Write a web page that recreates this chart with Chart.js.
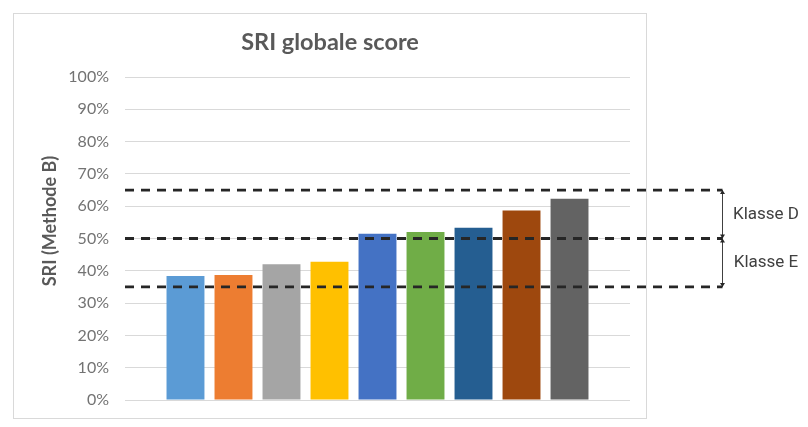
<!DOCTYPE html>
<html>
<head>
<meta charset="utf-8">
<script src="https://cdn.jsdelivr.net/npm/chart.js@4/dist/chart.umd.min.js"></script>
<style>
  html, body { margin: 0; padding: 0; background: #ffffff; }
  #wrap { width: 808px; height: 427px; }
</style>
</head>
<body>
<div id="wrap"><canvas id="sri"></canvas></div>
<script>
// Cases along the x axis (no labels drawn) and their global SRI score (%)
const cases = [1, 2, 3, 4, 5, 6, 7, 8, 9];
const sriScores = [38.4, 38.7, 42.0, 42.8, 51.5, 52.0, 53.3, 58.7, 62.3];
const barColors = ['#5B9BD5', '#ED7D31', '#A5A5A5', '#FFC000', '#4472C4',
                   '#70AD47', '#255E91', '#9E480E', '#636363'];

// Y axis tick values (%)
const yTickValues = [0, 10, 20, 30, 40, 50, 60, 70, 80, 90, 100];

// SRI class boundaries (%) and the class between each pair of boundaries
const classBounds = [35, 50, 65];
const classNames = ['Klasse E', 'Klasse D'];

const chartTitle = 'SRI globale score';
const yAxisTitle = 'SRI (Methode B)';

const GREY_TEXT = '#595959';
const BRACKET_X = 722.5;
const CLASS_LABEL_X = 766;

// Frame around the chart and white background
const framePlugin = {
  id: 'frame',
  beforeDraw(chart) {
    const ctx = chart.ctx;
    ctx.save();
    ctx.fillStyle = '#ffffff';
    ctx.fillRect(0, 0, chart.width, chart.height);
    ctx.strokeStyle = '#d9d9d9';
    ctx.lineWidth = 1;
    ctx.strokeRect(13.5, 13.5, 633, 405);
    ctx.restore();
  }
};

// Rotated title of the value axis
const yTitlePlugin = {
  id: 'yTitle',
  afterDraw(chart) {
    const ctx = chart.ctx;
    ctx.save();
    ctx.translate(50, 221);
    ctx.rotate(-Math.PI / 2);
    ctx.font = 'bold 18px Lato';
    ctx.fillStyle = GREY_TEXT;
    ctx.textAlign = 'center';
    ctx.textBaseline = 'middle';
    ctx.fillText(yAxisTitle, 0, 0);
    ctx.restore();
  }
};

// Dashed class boundaries with a dimension bracket and class labels
const classPlugin = {
  id: 'classes',
  afterDatasetsDraw(chart) {
    const ctx = chart.ctx;
    const y = chart.scales.y;
    const left = chart.chartArea.left;
    const ys = classBounds.map(v => y.getPixelForValue(v));

    ctx.save();
    // dashed boundary lines
    ctx.strokeStyle = '#262626';
    ctx.lineWidth = 2.8;
    ctx.setLineDash([9, 7]);
    ys.forEach(py => {
      ctx.beginPath();
      ctx.moveTo(left, py);
      ctx.lineTo(BRACKET_X, py);
      ctx.stroke();
    });
    ctx.setLineDash([]);

    // vertical bracket
    const top = Math.min(...ys), bottom = Math.max(...ys);
    ctx.strokeStyle = '#404040';
    ctx.lineWidth = 1;
    ctx.beginPath();
    ctx.moveTo(BRACKET_X, top);
    ctx.lineTo(BRACKET_X, bottom);
    ctx.stroke();

    // arrow heads at each boundary
    ctx.fillStyle = '#262626';
    const arrow = (py, dir) => {
      ctx.beginPath();
      ctx.moveTo(BRACKET_X, py);
      ctx.lineTo(BRACKET_X - 2.5, py + dir * 4);
      ctx.lineTo(BRACKET_X + 2.5, py + dir * 4);
      ctx.closePath();
      ctx.fill();
    };
    for (let i = 0; i < ys.length - 1; i++) {
      arrow(ys[i], -1);
      arrow(ys[i + 1], 1);
    }

    // class labels, centred between their boundaries
    ctx.font = '17px Roboto';
    ctx.fillStyle = '#404040';
    ctx.textAlign = 'center';
    ctx.textBaseline = 'middle';
    classNames.forEach((name, i) => {
      const mid = (ys[i] + ys[i + 1]) / 2;
      ctx.fillText(name, CLASS_LABEL_X, mid);
    });
    ctx.restore();
  }
};

new Chart(document.getElementById('sri'), {
  type: 'bar',
  data: {
    datasets: [{
      label: chartTitle,
      data: cases.map((c, i) => ({ x: c, y: sriScores[i] })),
      backgroundColor: barColors,
      borderWidth: 0,
      barPercentage: 0.79,
      categoryPercentage: 1
    }]
  },
  options: {
    responsive: true,
    maintainAspectRatio: false,
    animation: false,
    layout: { padding: { top: 28, left: 30, right: 178, bottom: 27 } },
    plugins: {
      legend: { display: false },
      tooltip: { enabled: false },
      title: {
        display: true,
        text: chartTitle,
        color: GREY_TEXT,
        font: { family: 'Lato', size: 23.5, weight: 'bold', lineHeight: 1.2 },
        padding: { top: 0, bottom: 20.8 }
      }
    },
    scales: {
      x: {
        type: 'linear',
        display: false,
        min: -0.26,
        max: 10.26,
        offset: false
      },
      y: {
        min: 0,
        max: 100,
        afterBuildTicks(scale) {
          scale.ticks = yTickValues.map(v => ({ value: v }));
        },
        afterFit(scale) { scale.width = 95; },
        border: { display: false },
        grid: { color: '#d9d9d9', lineWidth: 1, drawTicks: false },
        ticks: {
          padding: 16,
          color: '#737373',
          font: { family: 'Lato', size: 16 },
          callback: v => v + '%'
        }
      }
    }
  },
  plugins: [framePlugin, classPlugin, yTitlePlugin]
});
</script>
</body>
</html>
